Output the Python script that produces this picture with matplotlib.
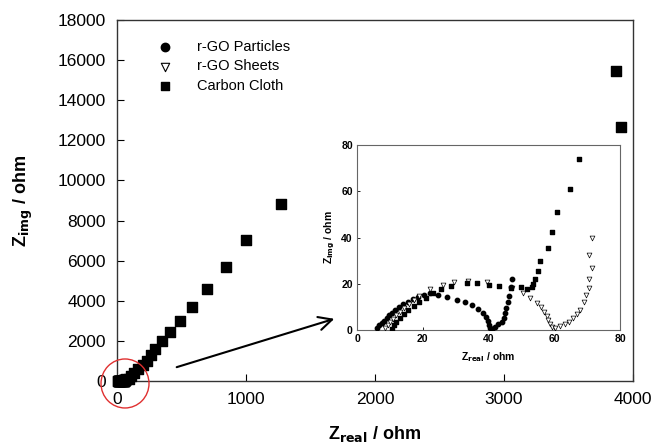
import matplotlib
matplotlib.use("Agg")
from matplotlib import pyplot as plt
from matplotlib.patches import Ellipse
import numpy as np

plt.rcParams['font.family'] = ['Liberation Sans', 'DejaVu Sans']

# r-GO particles (low-range data, ohm)
part_x = [6.1, 6.8, 7.5, 8.2, 9.0, 9.8, 10.7, 11.7, 12.8, 14.0, 15.4, 17.0, 18.7, 20.5,
          22.3, 24.5, 27.3, 30.5, 32.9, 35.1, 36.9, 38.3, 39.1, 39.7, 40.1, 40.5, 41.0,
          42.0, 43.0, 44.0, 44.6, 45.1, 45.4, 45.8, 46.1, 46.7, 47.0]
part_y = [1.0, 2.0, 3.0, 4.1, 5.2, 6.3, 7.5, 8.7, 9.9, 11.1, 12.3, 13.4, 14.4, 15.3,
          15.9, 15.3, 14.2, 13.1, 12.0, 10.7, 9.2, 7.5, 5.8, 4.0, 2.2, 1.0, 0.6,
          1.4, 2.5, 3.6, 5.1, 7.2, 9.4, 12.3, 14.7, 18.5, 22.1]

# r-GO sheets
sheet_x = [8.6, 9.3, 10.1, 11.0, 12.0, 13.1, 14.3, 15.7, 17.2, 19.0, 22.3, 26.1, 29.6,
           33.9, 39.5, 47.2, 50.4, 52.7, 54.7, 56.0, 57.0, 57.7, 58.2, 58.7, 59.2, 60.3,
           61.8, 63.3, 64.6, 65.6, 66.8, 67.8, 69.1, 69.7, 70.7, 70.7, 71.4, 70.7, 71.4]
sheet_y = [0.7, 2.0, 3.4, 4.9, 6.4, 8.0, 9.6, 11.2, 12.8, 14.5, 17.7, 19.5, 20.8,
           21.2, 20.9, 18.3, 15.9, 13.9, 11.5, 9.8, 7.9, 6.2, 4.3, 2.6, 1.2, 1.0,
           1.9, 2.6, 3.6, 5.1, 6.8, 8.7, 12.3, 15.2, 18.0, 22.1, 26.7, 32.5, 40.0]

# carbon cloth (low range)
cloth_x = [10.5, 11.2, 12.0, 13.0, 14.2, 15.6, 17.2, 19.0, 21.0, 23.0, 25.6, 28.7, 33.5,
           36.6, 40.1, 43.3, 46.7, 49.9, 51.6, 53.2, 53.6, 54.2, 55.1, 55.8, 58.0, 59.4,
           60.7, 64.9, 67.6]
cloth_y = [0.5, 2.0, 3.6, 5.3, 7.0, 8.8, 10.5, 12.2, 13.8, 15.9, 17.6, 19.1, 20.2,
           20.2, 19.6, 19.2, 18.2, 18.5, 17.6, 18.8, 19.9, 22.1, 25.4, 30.0, 35.4, 42.4,
           50.9, 61.0, 74.0]
# carbon cloth (high range)
cloth_hx = [90, 110, 135, 165, 199, 230, 261, 297, 351, 411, 488, 581, 695, 843, 1002,
            1271, 3868, 3907]
cloth_hy = [120, 250, 400, 600, 800, 1010, 1300, 1610, 1995, 2460, 3010, 3705, 4590,
            5700, 7030, 8820, 15470, 12680]

fig = plt.figure(figsize=(6.57, 4.47), dpi=100, facecolor='white')
ax = fig.add_axes([0.1781, 0.1477, 0.7854, 0.8076])

ax.scatter(part_x, part_y, marker='o', s=45, color='black', clip_on=False, zorder=3,
           label='r-GO Particles')
ax.scatter(sheet_x, sheet_y, marker='v', s=45, facecolor='white', edgecolor='black',
           linewidth=0.8, clip_on=False, zorder=3, label='r-GO Sheets')
ax.scatter(cloth_x + cloth_hx, cloth_y + cloth_hy, marker='s', s=50, color='black',
           clip_on=False, zorder=3, label='Carbon Cloth')

ax.set_xlim(0, 4000)
ax.set_ylim(0, 18000)
ax.set_xticks(np.arange(0, 4001, 1000))
ax.set_yticks(np.arange(0, 18001, 2000))
ax.tick_params(direction='in', length=5, width=0.8, labelsize=12.5, pad=8)
for s in ax.spines.values():
    s.set_linewidth(1.0)
    s.set_color('#333333')
ax.set_xlabel(r'Z$_{\mathbf{real}}$ / ohm', fontsize=13, fontweight='bold', labelpad=12)
ax.set_ylabel(r'Z$_{\mathbf{img}}$ / ohm', fontsize=13, fontweight='bold', labelpad=16)

leg = ax.legend(loc='upper left', bbox_to_anchor=(0.04, 0.98), frameon=False,
                fontsize=10.5, handletextpad=1.2, labelspacing=0.35, markerscale=0.9)

ax.add_patch(Ellipse((62, -125), 372, 2443, fill=False, edgecolor='#e03030',
                     linewidth=1.0, clip_on=False, zorder=4))
ax.annotate('', xy=(1705, 3140), xytext=(442, 648),
            arrowprops=dict(arrowstyle='->', color='black', lw=1.5,
                            mutation_scale=24))

ins = fig.add_axes([0.5434, 0.2617, 0.4003, 0.4139])
ins.scatter(part_x, part_y, marker='o', s=10, color='black', zorder=3)
ins.scatter(sheet_x, sheet_y, marker='v', s=12, facecolor='white', edgecolor='black',
            linewidth=0.5, zorder=3)
ins.scatter(cloth_x, cloth_y, marker='s', s=9, color='black', zorder=3)
ins.set_xlim(0, 80)
ins.set_ylim(0, 80)
ins.set_xticks(np.arange(0, 81, 20))
ins.set_yticks(np.arange(0, 81, 20))
ins.tick_params(direction='in', length=2, width=0.6, labelsize=7.5, pad=3)
for lab in ins.get_xticklabels() + ins.get_yticklabels():
    lab.set_fontweight('bold')
for s in ins.spines.values():
    s.set_linewidth(0.8)
    s.set_color('#666666')
ins.set_xlabel(r'Z$_{\mathbf{real}}$ / ohm', fontsize=7.5, fontweight='bold', labelpad=4)
ins.set_ylabel(r'Z$_{\mathbf{img}}$ / ohm', fontsize=7.5, fontweight='bold', labelpad=3)

fig.savefig('out.png', dpi=100)
